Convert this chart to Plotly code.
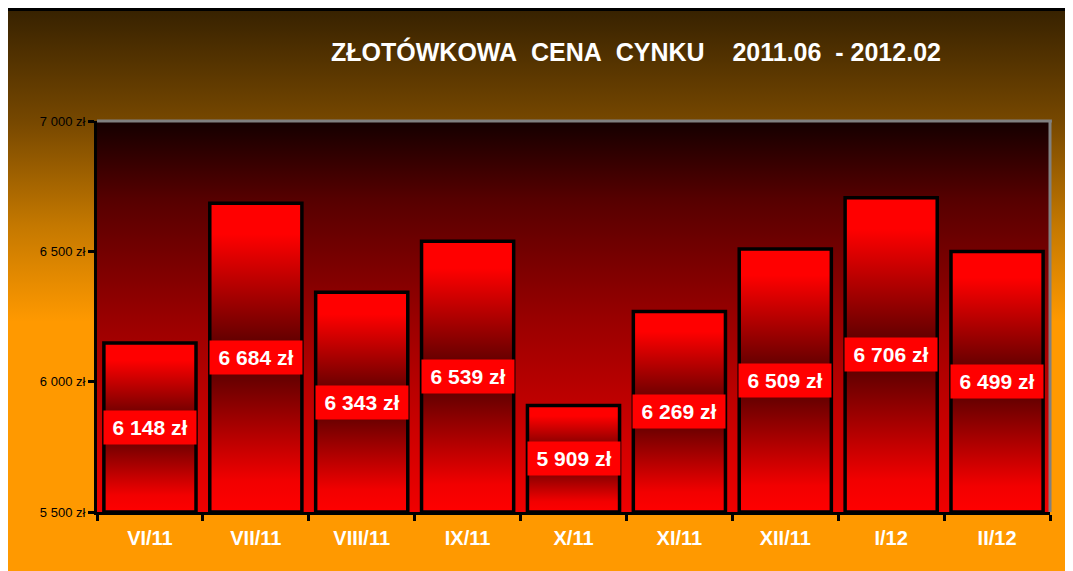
import base64
import plotly.graph_objects as go

# ---- data ----
categories = ["VI/11", "VII/11", "VIII/11", "IX/11", "X/11", "XI/11", "XII/11", "I/12", "II/12"]
prices = [6148, 6684, 6343, 6539, 5909, 6269, 6509, 6706, 6499]
y_ticks = [5500, 6000, 6500, 7000]
y_tick_labels = ["5 500 zł", "6 000 zł", "6 500 zł", "7 000 zł"]
title_text = "ZŁOTÓWKOWA\u00a0\u00a0CENA\u00a0\u00a0CYNKU\u00a0\u00a0\u00a0\u00a02011.06\u00a0\u00a0-\u00a02012.02"

Y_MIN, Y_MAX = 5500, 7000
HALF_W = 0.435

# figure-pixel layout (page is offset by the 8px body margin)
L, R, T, B = 89, 31, 113, 67
W, H = 1073, 571
PW, PH = W - L - R, H - T - B


def fmt(v):
    return f"{v:,}".replace(",", " ") + " zł"


def svg_gradient(stops):
    st = "".join(f'<stop offset="{o}" stop-color="{c}"/>' for o, c in stops)
    svg = ('<svg xmlns="http://www.w3.org/2000/svg" width="100" height="100" preserveAspectRatio="none">'
           '<defs><linearGradient id="g" x1="0" y1="0" x2="0" y2="1">' + st +
           '</linearGradient></defs><rect width="100" height="100" fill="url(#g)"/></svg>')
    return "data:image/svg+xml;base64," + base64.b64encode(svg.encode()).decode()


bg_src = svg_gradient([(0, "#362100"), (0.2, "#774800"), (0.38, "#c47800"), (0.55, "#ff9900"), (1, "#ff9900")])
plot_src = svg_gradient([(0, "#140000"), (0.2, "#560000"), (0.5, "#980000"), (1, "#f00000")])

fig = go.Figure()

bar_scale = [[0, "#ff0000"], [0.1, "#f20000"], [0.5, "#4c0000"], [0.9, "#ff0000"], [1, "#ff0000"]]
for i, (cat, v) in enumerate(zip(categories, prices)):
    xs = [i - HALF_W, i + HALF_W, i + HALF_W, i - HALF_W, i - HALF_W]
    ys = [Y_MIN, Y_MIN, v, v, Y_MIN]
    fig.add_trace(go.Scatter(
        x=xs, y=ys, mode="lines", fill="toself",
        fillgradient=dict(type="vertical", colorscale=bar_scale),
        line=dict(color="black", width=3.5),
        hoverinfo="skip", showlegend=False, name=cat,
    ))

for i, v in enumerate(prices):
    fig.add_annotation(
        x=i, y=(Y_MIN + v) / 2, text=fmt(v), showarrow=False,
        font=dict(family="Arial, Liberation Sans", size=21, color="white", weight="bold"),
        bgcolor="#ff0000", width=86, height=27, borderpad=3,
    )

fig.update_layout(
    width=W, height=H,
    margin=dict(l=L, r=R, t=T, b=B),
    paper_bgcolor="#ff9900", plot_bgcolor="rgba(0,0,0,0)",
    showlegend=False,
    title=dict(text=title_text, x=(628 - L) / PW, xref="paper", xanchor="center",
               y=1 - 44 / H, yref="container", yanchor="middle",
               font=dict(family="Liberation Sans Narrow, Arial Narrow, Liberation Sans, Arial",
                         size=25, color="white", weight="bold")),
    images=[
        dict(source=bg_src, xref="paper", yref="paper", x=-L / PW, y=1 + T / PH,
             sizex=W / PW, sizey=H / PH, sizing="stretch",
             xanchor="left", yanchor="top", layer="below"),
        dict(source=plot_src, xref="paper", yref="paper", x=0, y=1, sizex=1, sizey=1,
             sizing="stretch", xanchor="left", yanchor="top", layer="below"),
    ],
    shapes=[
        dict(type="line", xref="paper", yref="paper", x0=-L / PW, x1=1 + R / PW,
             y0=1 + (T - 1.5) / PH, y1=1 + (T - 1.5) / PH, line=dict(color="black", width=3)),
        dict(type="line", xref="paper", yref="paper", x0=0, x1=1.002, y0=1.0, y1=1.0,
             line=dict(color="#808080", width=3)),
        dict(type="line", xref="paper", yref="paper", x0=1.0, x1=1.0, y0=0, y1=1.0,
             line=dict(color="#808080", width=3)),
    ],
)

fig.update_xaxes(
    range=[-0.5, len(categories) - 0.5], tickmode="array",
    tickvals=list(range(len(categories))), ticktext=categories,
    ticks="", showgrid=False, zeroline=False,
    showline=True, linecolor="black", linewidth=3,
    tickfont=dict(family="Arial, Liberation Sans", size=20, color="white", weight="bold"),
    ticklabelstandoff=6,
    minor=dict(tickmode="array", tickvals=[i - 0.5 for i in range(len(categories) + 1)],
               ticks="outside", ticklen=6, tickwidth=3, tickcolor="black", showgrid=False),
    fixedrange=True,
)
fig.update_yaxes(
    range=[Y_MIN, Y_MAX], tickmode="array", tickvals=y_ticks, ticktext=y_tick_labels,
    ticks="outside", ticklen=6, tickwidth=3, tickcolor="black",
    showgrid=False, zeroline=False, showline=True, linecolor="black", linewidth=3,
    tickfont=dict(family="Arial, Liberation Sans", size=13, color="black"),
    fixedrange=True,
)

fig.write_html("out.html")
